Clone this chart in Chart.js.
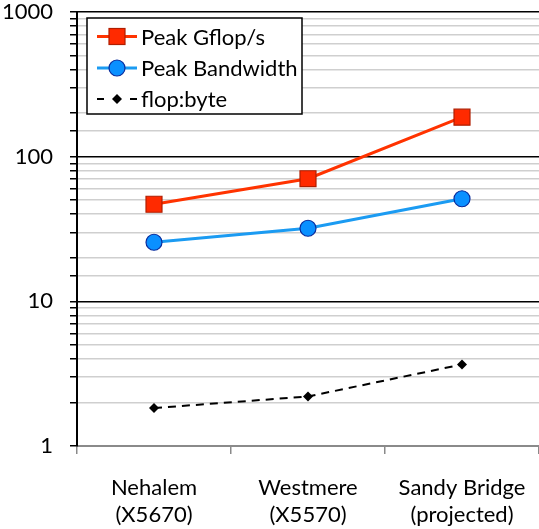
<!DOCTYPE html>
<html><head><meta charset="utf-8">
<script src="https://cdn.jsdelivr.net/npm/chart.js@4/dist/chart.umd.min.js"></script>
<style>html,body{margin:0;padding:0;background:#fff}#wrap{width:539px;height:529px}</style>
</head><body><div id="wrap"><canvas id="c" width="539" height="529"></canvas></div>
<script>
const categories = [["Nehalem","(X5670)"],["Westmere","(X5570)"],["Sandy Bridge","(projected)"]];
const peakGflops = [46.9, 70.4, 187.5];
const peakBandwidth = [25.6, 32, 51.2];
const flopByte = [1.83, 2.2, 3.66];
const seriesNames = ["Peak Gflop/s","Peak Bandwidth","flop:byte"];
const yLabels = [1, 10, 100, 1000];

const FONT = "Lato, 'Open Sans', sans-serif";
const RED = '#ff3300', RED_FILL = '#ff2a00', RED_BORDER = '#b01e00';
const BLUE = '#1b9bf2', BLUE_FILL = '#0a90ff', BLUE_BORDER = '#0b2c9c';

const legendPlugin = {
  id: 'boxLegend',
  afterDraw(chart) {
    const ctx = chart.ctx;
    ctx.save();
    const x0 = 87, y0 = 18, w = 215, h = 96;
    ctx.fillStyle = '#fff';
    ctx.fillRect(x0, y0, w, h);
    ctx.strokeStyle = '#000'; ctx.lineWidth = 1.5;
    ctx.strokeRect(x0, y0, w, h);
    const rows = [36.5, 68, 99];
    ctx.font = '22px ' + FONT;
    ctx.textBaseline = 'middle';
    ctx.strokeStyle = RED; ctx.lineWidth = 3;
    ctx.beginPath(); ctx.moveTo(97, rows[0]); ctx.lineTo(137, rows[0]); ctx.stroke();
    ctx.fillStyle = RED_FILL; ctx.strokeStyle = RED_BORDER; ctx.lineWidth = 1.2;
    ctx.fillRect(109, rows[0]-8, 16, 16); ctx.strokeRect(109, rows[0]-8, 16, 16);
    ctx.strokeStyle = BLUE; ctx.lineWidth = 3;
    ctx.beginPath(); ctx.moveTo(97, rows[1]); ctx.lineTo(137, rows[1]); ctx.stroke();
    ctx.fillStyle = BLUE_FILL; ctx.strokeStyle = BLUE_BORDER; ctx.lineWidth = 1.2;
    ctx.beginPath(); ctx.arc(117, rows[1], 8, 0, Math.PI*2); ctx.fill(); ctx.stroke();
    ctx.strokeStyle = '#000'; ctx.lineWidth = 2;
    ctx.beginPath(); ctx.moveTo(97, rows[2]); ctx.lineTo(104, rows[2]);
    ctx.moveTo(130, rows[2]); ctx.lineTo(137, rows[2]); ctx.stroke();
    ctx.fillStyle = '#000';
    ctx.beginPath(); ctx.moveTo(117, rows[2]-5); ctx.lineTo(122, rows[2]); ctx.lineTo(117, rows[2]+5); ctx.lineTo(112, rows[2]); ctx.closePath(); ctx.fill();
    ctx.fillText(seriesNames[0], 141, rows[0]+1);
    ctx.fillText(seriesNames[1], 141, rows[1]+1);
    ctx.fillText(seriesNames[2], 141, rows[2]+1);
    ctx.restore();
  }
};

new Chart(document.getElementById('c'), {
  type: 'line',
  data: {
    labels: categories,
    datasets: [
      { label: seriesNames[0], data: peakGflops, borderColor: RED, borderWidth: 3,
        pointStyle: 'rect', pointRadius: 11.3, pointBackgroundColor: RED_FILL, pointBorderColor: RED_BORDER, pointBorderWidth: 1.2, tension: 0 },
      { label: seriesNames[1], data: peakBandwidth, borderColor: BLUE, borderWidth: 3,
        pointStyle: 'circle', pointRadius: 8, pointBackgroundColor: BLUE_FILL, pointBorderColor: BLUE_BORDER, pointBorderWidth: 1.2, tension: 0 },
      { label: seriesNames[2], data: flopByte, borderColor: '#000', borderWidth: 2, borderDash: [8, 6],
        pointStyle: 'rectRot', pointRadius: 5, pointBackgroundColor: '#000', pointBorderColor: '#000', pointBorderWidth: 0, tension: 0 }
    ]
  },
  options: {
    responsive: false, animation: false, devicePixelRatio: 1,
    layout: { autoPadding: false, padding: { top: 12, right: 0, left: 0, bottom: 0 } },
    plugins: { legend: { display: false }, tooltip: { enabled: false } },
    scales: {
      x: {
        offset: true,
        grid: { offset: true, drawOnChartArea: false, color: '#8a8a8a', tickLength: 8, lineWidth: 1.5 },
        border: { color: '#8a8a8a', width: 2 },
        ticks: { color: '#000', font: { family: FONT, size: 22, lineHeight: 1.23 }, padding: 20, maxRotation: 0, autoSkip: false },
        afterFit(s) { s.height = 83; s.paddingLeft = 0; s.paddingRight = 0; }
      },
      y: {
        type: 'logarithmic', min: 1, max: 1000,
        grid: {
          color: c => { const v = c.tick ? c.tick.value : 0; if (v === 1) return '#8a8a8a'; return yLabels.includes(v) ? '#000' : '#cfcfcf'; },
          lineWidth: 1.5,
          tickColor: '#000', tickLength: 7
        },
        border: { color: '#000', width: 2 },
        ticks: {
          autoSkip: false, color: '#000', padding: 17,
          font: { family: FONT, size: 22 },
          callback: v => yLabels.includes(v) ? String(v) : ''
        },
        afterFit(s) { s.width = 77; s.paddingTop = 0; s.paddingBottom = 0; }
      }
    }
  },
  plugins: [legendPlugin]
});
</script></body></html>
